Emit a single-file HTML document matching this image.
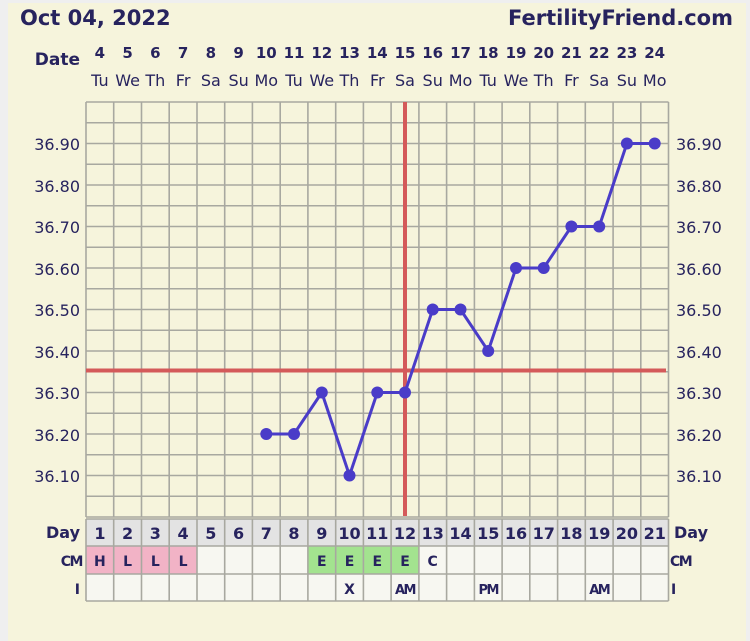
<!DOCTYPE html><html><head><style>body{margin:0;background:#f0f0f0}svg{display:block}</style></head><body>
<svg width="750" height="641" xmlns="http://www.w3.org/2000/svg" font-family="'DejaVu Sans','Liberation Sans',sans-serif">
<rect x="0" y="0" width="750" height="641" fill="#efefef"/>
<rect x="8" y="3" width="738" height="638" fill="#f6f4dc"/>
<g fill="#27235e" font-weight="bold">
<text x="20" y="25" font-size="21">Oct 04, 2022</text>
<text x="733" y="25" font-size="21" text-anchor="end">FertilityFriend.com</text>
<text x="80" y="65" font-size="17" text-anchor="end">Date</text>
<g font-size="15" text-anchor="middle">
<text x="99.9" y="58">4</text><text x="127.6" y="58">5</text><text x="155.3" y="58">6</text><text x="183.1" y="58">7</text><text x="210.8" y="58">8</text><text x="238.6" y="58">9</text><text x="266.3" y="58">10</text><text x="294" y="58">11</text><text x="321.8" y="58">12</text><text x="349.5" y="58">13</text><text x="377.3" y="58">14</text><text x="405" y="58">15</text><text x="432.7" y="58">16</text><text x="460.5" y="58">17</text><text x="488.2" y="58">18</text><text x="516" y="58">19</text><text x="543.7" y="58">20</text><text x="571.4" y="58">21</text><text x="599.2" y="58">22</text><text x="626.9" y="58">23</text><text x="654.7" y="58">24</text>
</g></g>
<g fill="#27235e" font-size="16" text-anchor="middle">
<text x="99.9" y="86">Tu</text><text x="127.6" y="86">We</text><text x="155.3" y="86">Th</text><text x="183.1" y="86">Fr</text><text x="210.8" y="86">Sa</text><text x="238.6" y="86">Su</text><text x="266.3" y="86">Mo</text><text x="294" y="86">Tu</text><text x="321.8" y="86">We</text><text x="349.5" y="86">Th</text><text x="377.3" y="86">Fr</text><text x="405" y="86">Sa</text><text x="432.7" y="86">Su</text><text x="460.5" y="86">Mo</text><text x="488.2" y="86">Tu</text><text x="516" y="86">We</text><text x="543.7" y="86">Th</text><text x="571.4" y="86">Fr</text><text x="599.2" y="86">Sa</text><text x="626.9" y="86">Su</text><text x="654.7" y="86">Mo</text>
</g>
<g stroke="#a8a8a0" stroke-width="1.6" fill="none">
<path d="M86 102V517M113.7 102V517M141.5 102V517M169.2 102V517M197 102V517M224.7 102V517M252.4 102V517M280.2 102V517M307.9 102V517M335.7 102V517M363.4 102V517M391.1 102V517M418.9 102V517M446.6 102V517M474.4 102V517M502.1 102V517M529.8 102V517M557.6 102V517M585.3 102V517M613.1 102V517M640.8 102V517M668.5 102V517"/>
<path d="M86 102H668.5M86 122.75H668.5M86 143.5H668.5M86 164.25H668.5M86 185H668.5M86 205.75H668.5M86 226.5H668.5M86 247.25H668.5M86 268H668.5M86 288.75H668.5M86 309.5H668.5M86 330.25H668.5M86 351H668.5M86 371.75H668.5M86 392.5H668.5M86 413.25H668.5M86 434H668.5M86 454.75H668.5M86 475.5H668.5M86 496.25H668.5M86 517H668.5"/>
</g>
<g fill="#27235e" font-size="16">
<g text-anchor="end"><text x="80" y="150">36.90</text><text x="80" y="192">36.80</text><text x="80" y="233">36.70</text><text x="80" y="275">36.60</text><text x="80" y="316">36.50</text><text x="80" y="358">36.40</text><text x="80" y="399">36.30</text><text x="80" y="441">36.20</text><text x="80" y="482">36.10</text></g>
<text x="676" y="150">36.90</text><text x="676" y="192">36.80</text><text x="676" y="233">36.70</text><text x="676" y="275">36.60</text><text x="676" y="316">36.50</text><text x="676" y="358">36.40</text><text x="676" y="399">36.30</text><text x="676" y="441">36.20</text><text x="676" y="482">36.10</text>
</g>
<rect x="86" y="368.5" width="580" height="4" fill="#d45a5a"/>
<rect x="403" y="102" width="4" height="414" fill="#d45a5a"/>
<polyline fill="none" stroke="#4a3cc8" stroke-width="3" points="266.3,434 294,434 321.8,392.5 349.5,475.5 377.3,392.5 405,392.5 432.7,309.5 460.5,309.5 488.2,351 516,268 543.7,268 571.4,226.5 599.2,226.5 626.9,143.5 654.7,143.5"/>
<g fill="#4a3cc8"><circle cx="266.3" cy="434" r="6"/><circle cx="294" cy="434" r="6"/><circle cx="321.8" cy="392.5" r="6"/><circle cx="349.5" cy="475.5" r="6"/><circle cx="377.3" cy="392.5" r="6"/><circle cx="405" cy="392.5" r="6"/><circle cx="432.7" cy="309.5" r="6"/><circle cx="460.5" cy="309.5" r="6"/><circle cx="488.2" cy="351" r="6"/><circle cx="516" cy="268" r="6"/><circle cx="543.7" cy="268" r="6"/><circle cx="571.4" cy="226.5" r="6"/><circle cx="599.2" cy="226.5" r="6"/><circle cx="626.9" cy="143.5" r="6"/><circle cx="654.7" cy="143.5" r="6"/></g>
<rect x="86" y="519" width="582.5" height="27" fill="#e3e3e3"/>
<rect x="86" y="546" width="582.5" height="55" fill="#f7f7f1"/>
<rect x="86" y="546" width="111" height="28" fill="#f2b3c6"/>
<rect x="307.9" y="546" width="111" height="28" fill="#a3e38f"/>
<g stroke="#a8a8a0" stroke-width="1.6" fill="none">
<path d="M86 519H668.5M86 546H668.5M86 574H668.5M86 601H668.5"/>
<path d="M86 519V601M113.7 519V601M141.5 519V601M169.2 519V601M197 519V601M224.7 519V601M252.4 519V601M280.2 519V601M307.9 519V601M335.7 519V601M363.4 519V601M391.1 519V601M418.9 519V601M446.6 519V601M474.4 519V601M502.1 519V601M529.8 519V601M557.6 519V601M585.3 519V601M613.1 519V601M640.8 519V601M668.5 519V601"/>
</g>
<g fill="#27235e" font-weight="bold" font-size="16">
<text x="80" y="538" text-anchor="end">Day</text><text x="674" y="538">Day</text>
<text x="82" y="566" text-anchor="end" font-size="14" letter-spacing="-1.5">CM</text><text x="670" y="566" font-size="14" letter-spacing="-1.5">CM</text>
<text x="80" y="594" text-anchor="end" font-size="14">I</text><text x="671" y="594" font-size="14">I</text>
<g text-anchor="middle">
<text x="99.9" y="539">1</text><text x="127.6" y="539">2</text><text x="155.3" y="539">3</text><text x="183.1" y="539">4</text><text x="210.8" y="539">5</text><text x="238.6" y="539">6</text><text x="266.3" y="539">7</text><text x="294" y="539">8</text><text x="321.8" y="539">9</text><text x="349.5" y="539">10</text><text x="377.3" y="539">11</text><text x="405" y="539">12</text><text x="432.7" y="539">13</text><text x="460.5" y="539">14</text><text x="488.2" y="539">15</text><text x="516" y="539">16</text><text x="543.7" y="539">17</text><text x="571.4" y="539">18</text><text x="599.2" y="539">19</text><text x="626.9" y="539">20</text><text x="654.7" y="539">21</text>
<g font-size="14"><text x="99.9" y="566">H</text><text x="127.6" y="566">L</text><text x="155.3" y="566">L</text><text x="183.1" y="566">L</text><text x="321.8" y="566">E</text><text x="349.5" y="566">E</text><text x="377.3" y="566">E</text><text x="405" y="566">E</text><text x="432.7" y="566">C</text>
<text x="349.5" y="594">X</text></g>
<g font-size="13" letter-spacing="-1.5"><text x="405" y="594">AM</text><text x="488.2" y="594">PM</text><text x="599.2" y="594">AM</text></g>
</g></g>
</svg>
</body></html>
